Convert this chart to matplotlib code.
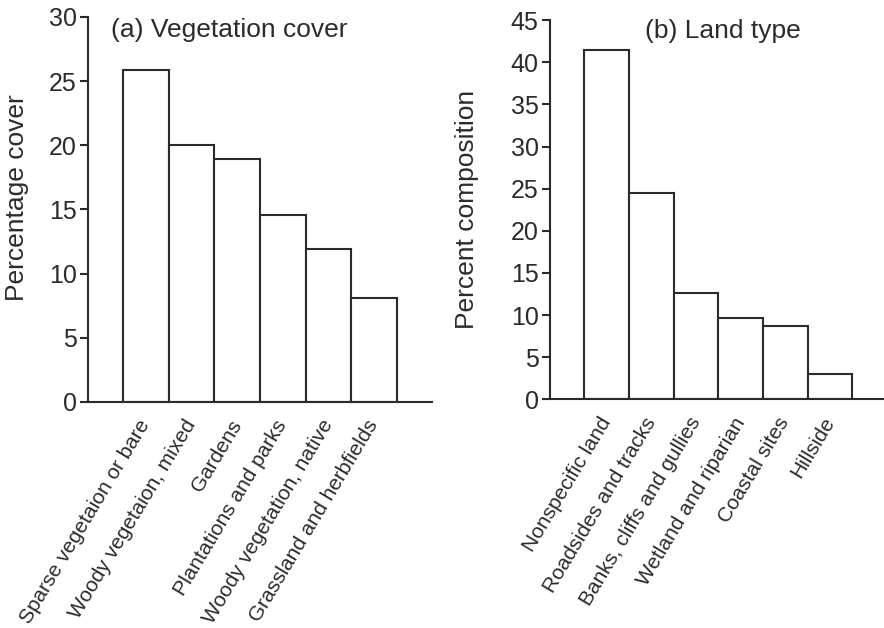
import numpy as np
import matplotlib.pyplot as plt

plt.rcParams['font.family'] = ['Liberation Sans', 'DejaVu Sans']

veg_labels = ['Sparse vegetaion or bare', 'Woody vegetaion, mixed', 'Gardens',
              'Plantations and parks', 'Woody vegetation, native',
              'Grassland and herbfields']
veg_values = [25.9, 20.0, 18.9, 14.6, 11.9, 8.1]

land_labels = ['Nonspecific land', 'Roadsides and tracks', 'Banks, cliffs and gullies',
               'Wetland and riparian', 'Coastal sites', 'Hillside']
land_values = [41.5, 24.5, 12.6, 9.6, 8.7, 3.0]

ink = '#2b2b2b'

fig = plt.figure(figsize=(8.84, 6.28), dpi=100)
ax1 = fig.add_axes([0.0995, 0.36, 0.389, 0.613])
ax2 = fig.add_axes([0.622, 0.364, 0.381, 0.604])


def draw(ax, labels, values, ymax, ylabel, title, title_x, title_y, ylab_xy):
    x = np.arange(len(values))
    ax.bar(x, values, width=1.0, color='white', edgecolor=ink, linewidth=1.5)
    ax.set_xlim(-1.27, len(values) - 1 + 1.27)
    ax.set_ylim(0, ymax)
    ax.set_yticks(np.arange(0, ymax + 1, 5))
    ax.set_xticks(x)
    ax.set_xticklabels(labels, rotation=59, ha='right', va='center',
                       rotation_mode='anchor', fontsize=15, color=ink)
    ax.tick_params(axis='x', length=0, pad=14)
    ax.tick_params(axis='y', direction='out', length=6, width=1.5,
                   color=ink, labelsize=18, labelcolor=ink, pad=2)
    for s in ['top', 'right']:
        ax.spines[s].set_visible(False)
    for s in ['left', 'bottom']:
        ax.spines[s].set_color(ink)
        ax.spines[s].set_linewidth(1.5)
    ax.set_ylabel(ylabel, fontsize=19, color=ink)
    ax.yaxis.set_label_coords(*ylab_xy)
    ax.text(title_x, title_y, title, transform=ax.transAxes, ha='center',
            va='center', fontsize=19, color=ink)


draw(ax1, veg_labels, veg_values, 30, 'Percentage cover',
     '(a) Vegetation cover', 0.41, 0.966, (-0.17, 0.53))
draw(ax2, land_labels, land_values, 45, 'Percent composition',
     '(b) Land type', 0.513, 0.971, (-0.21, 0.5))

fig.savefig('out.png', dpi=100)
